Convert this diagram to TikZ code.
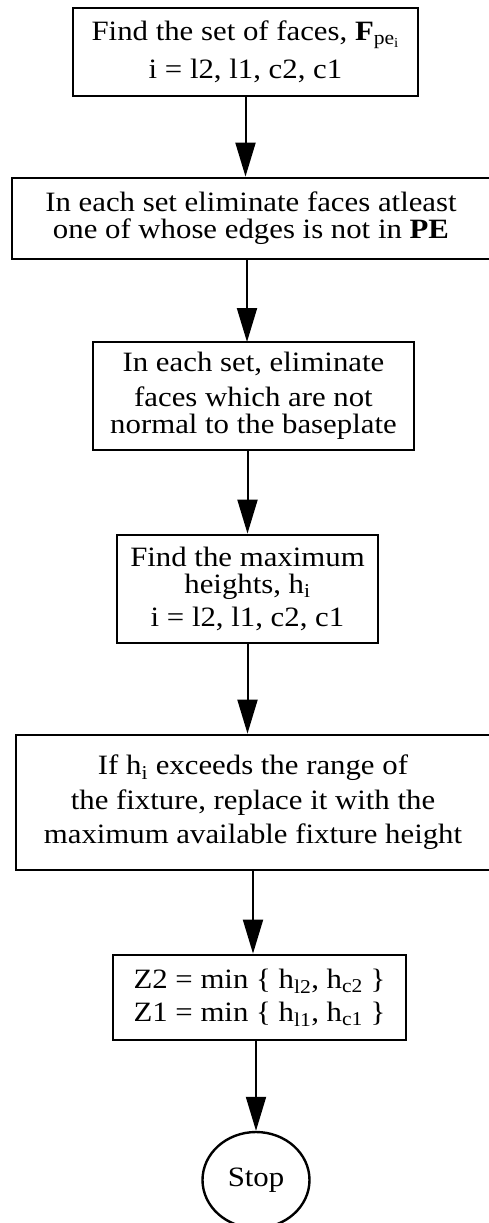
\documentclass[tikz,border=0pt]{standalone}
\usepackage{fontspec}
\setmainfont{Liberation Serif}[FakeStretch=1.1]
\usetikzlibrary{arrows.meta,shapes.geometric}
\newcommand{\lowsub}[1]{\textsubscript{#1}}

\begin{document}
\begin{tikzpicture}[x=1pt,y=-1pt,>={Triangle[length=34pt,width=20pt]},
 stepbox/.style={draw,line width=2.8pt,inner sep=0pt,align=center,font=\fontsize{28}{30}\selectfont},
 flow/.style={line width=2pt,->}]
\useasboundingbox (0,0) rectangle (488,1223);
\node[stepbox,minimum width=345pt,minimum height=88pt] (find) at (245.5,52) {Find the set of faces, \textbf{F}\lowsub{pe\lowsub{i}}\\[8pt]i = l2, l1, c2, c1};
\node[stepbox,minimum width=478pt,minimum height=81pt,font=\fontsize{28}{27}\selectfont] (edges) at (251,218.5) {In each set eliminate faces atleast\\one of whose edges is not in \textbf{PE}};
\node[stepbox,minimum width=321pt,minimum height=108pt,font=\fontsize{28}{27}\selectfont] (normal) at (253.5,396) {In each set, eliminate\\[8pt]faces which are not\\normal to the baseplate};
\node[stepbox,minimum width=261pt,minimum height=108pt,font=\fontsize{28}{27}\selectfont] (maxh) at (247.5,589) {Find the maximum\\heights, h\lowsub{i}\\[6pt]i = l2, l1, c2, c1};
\node[stepbox,minimum width=474pt,minimum height=135pt,font=\fontsize{28}{34.5}\selectfont] (limit) at (253,802.5) {If h\lowsub{i} exceeds the range of\\the fixture, replace it with the\\maximum available fixture height};
\node[stepbox,minimum width=293pt,minimum height=85pt,align=left,font=\fontsize{28}{33}\selectfont] (zmin) at (259.5,997.5) {Z2 = min \{ h\lowsub{l2}, h\lowsub{c2} \}\\Z1 = min \{ h\lowsub{l1}, h\lowsub{c1} \}};
\node[draw,ellipse,line width=2.4pt,minimum width=107pt,minimum height=96pt,inner sep=0pt,font=\fontsize{28}{30}\selectfont] (stop) at (256,1180) {Stop};
\draw[flow] (find.south) -- (find.south |- edges.north);
\draw[flow] (247,259) -- (247,342);
\draw[flow] (normal.south -| maxh) -- (maxh.north);
\draw[flow] (maxh.south) -- (maxh.south |- limit.north);
\draw[flow] (limit.south) -- (limit.south |- zmin.north);
\draw[flow] (zmin.south -| stop) -- (stop.north);
\end{tikzpicture}
\end{document}
